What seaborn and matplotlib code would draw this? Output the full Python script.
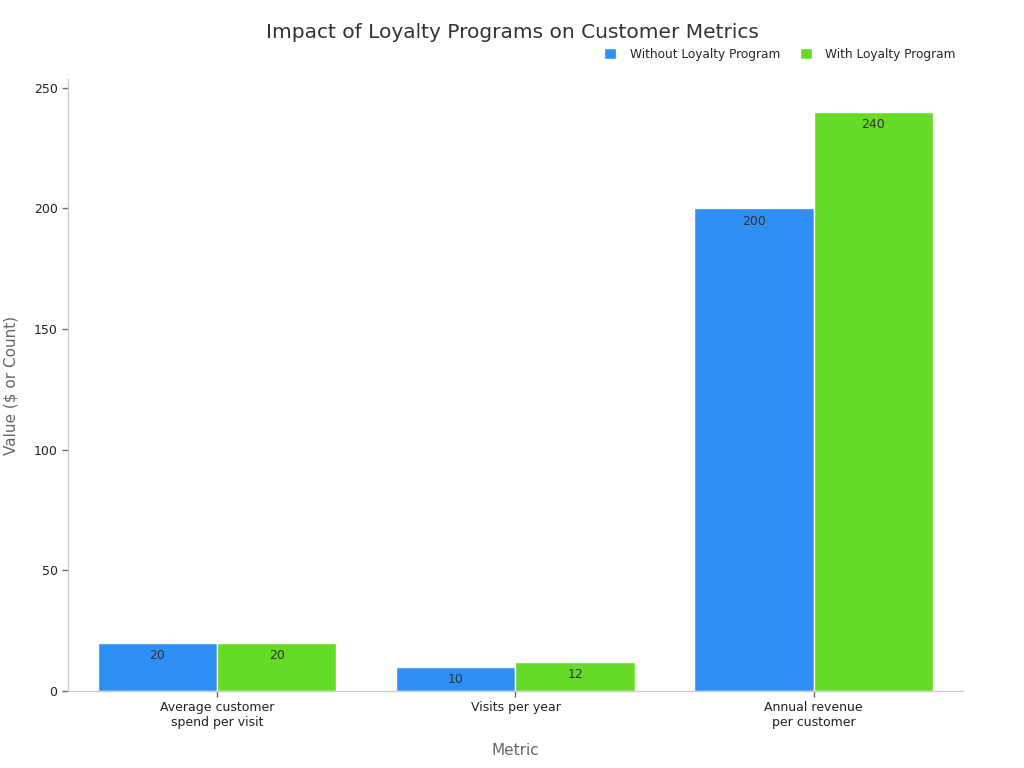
import pandas as pd
import matplotlib.pyplot as plt
import seaborn as sns

# data
metrics = ["Average customer\nspend per visit", "Visits per year", "Annual revenue\nper customer"]
without_program = [20, 10, 200]
with_program = [20, 12, 240]
series_names = ["Without Loyalty Program", "With Loyalty Program"]
colors = ["#2f8ff5", "#66db27"]

df = pd.DataFrame({
    "Metric": metrics * 2,
    "Value": without_program + with_program,
    "Program": [series_names[0]] * 3 + [series_names[1]] * 3,
})

sns.set_style("white")
plt.rcParams['font.family'] = ['DejaVu Sans']

fig = plt.figure(figsize=(10.24, 7.68), dpi=100)
ax = fig.add_axes([0.0664, 0.1003, 0.8740, 0.7967])

sns.barplot(data=df, x="Metric", y="Value", hue="Program", palette=colors,
            width=0.8, edgecolor="white", linewidth=1, saturation=1, ax=ax)

# value labels just inside the top of each bar
for container in ax.containers:
    ax.bar_label(container, fmt="%g", padding=-14, fontsize=9, color="#333333")

ax.set_xlim(-0.5, 2.5)
ax.set_ylim(0, 253.5)
ax.set_yticks([0, 50, 100, 150, 200, 250])

for side in ["top", "right"]:
    ax.spines[side].set_visible(False)
for side in ["left", "bottom"]:
    ax.spines[side].set_color("#cccccc")
    ax.spines[side].set_linewidth(1)

ax.tick_params(axis="both", bottom=True, left=True, length=4, width=1,
               color="#666666", labelsize=9, labelcolor="#222222")
ax.set_xlabel("Metric", fontsize=11, color="#666666", labelpad=10)
ax.set_ylabel("Value ($ or Count)", fontsize=11, color="#666666", labelpad=11)

fig.suptitle("Impact of Loyalty Programs on Customer Metrics", x=0.5, y=0.97,
             fontsize=14.5, color="#333333")

ax.legend(loc="lower right", bbox_to_anchor=(1.0, 1.018), ncol=2, frameon=False,
          fontsize=8.7, handlelength=1.0, handleheight=1.0, columnspacing=1.65,
          handletextpad=1.1, borderaxespad=0.2)

fig.savefig("out.png", dpi=100)
